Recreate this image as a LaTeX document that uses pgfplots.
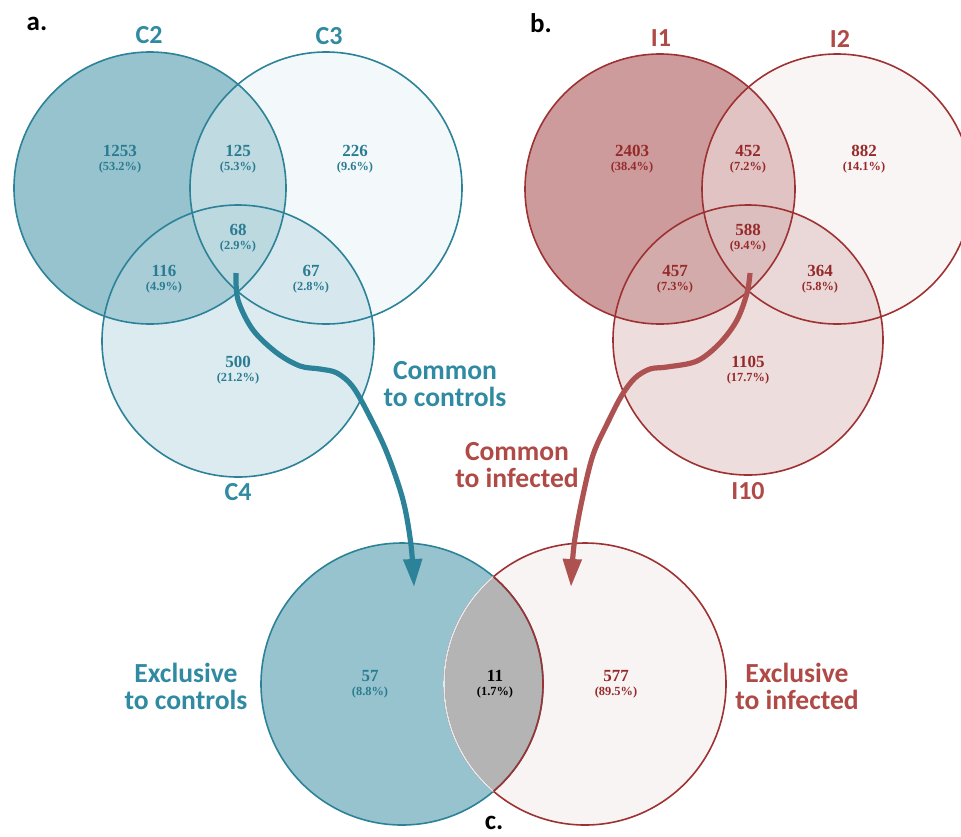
\documentclass[border=0pt]{standalone}
\usepackage{fontspec}
\setmainfont{Liberation Serif}
\newfontfamily\lab{Carlito}
\usepackage{pgfplots}
\usepackage{pgfplotstable}
\pgfplotsset{compat=1.18}
\usetikzlibrary{arrows.meta}

\definecolor{tealc}{RGB}{44,130,152}
\definecolor{tealtxt}{RGB}{48,138,162}
\definecolor{tealnum}{RGB}{42,124,146}
\definecolor{redc}{RGB}{158,50,50}
\definecolor{redtxt}{RGB}{176,74,70}
\definecolor{rednum}{RGB}{150,42,42}
\definecolor{lensgray}{RGB}{180,180,180}
% set fills
\definecolor{fillA}{RGB}{150,195,205}
\definecolor{fillB}{RGB}{232,243,245}
\definecolor{fillC}{RGB}{186,216,224}
\definecolor{fillD}{RGB}{205,155,155}
\definecolor{fillE}{RGB}{245,235,235}
\definecolor{fillF}{RGB}{219,187,187}
\definecolor{fillG}{RGB}{249,244,244}

% region counts and shares: x y (label centre), n (count), p (percent)
\pgfplotstableread{
x y n p
120 159 1253 53.2
238 159 125 5.3
355 159 226 9.6
238 238 68 2.9
164 279 116 4.9
311 279 67 2.8
238 370 500 21.2
370 684 57 8.8
}\controls
\pgfplotstableread{
x y n p
632 159 2403 38.4
748 159 452 7.2
864 159 882 14.1
748 238 588 9.4
675 279 457 7.3
820 279 364 5.8
748 370 1105 17.7
616 684 577 89.5
}\infected
\pgfplotstableread{
x y n p
495 684 11 1.7
}\shared

\pgfplotsset{
  venn labels/.style={
    draw=none, mark=none,
    point meta=explicit symbolic,
    visualization depends on={\thisrow{p}\as\pct},
    nodes near coords={\pgfplotspointmeta\\{\fontsize{6.2}{7}\selectfont(\pgfmathprintnumber[fixed,fixed zerofill,precision=1,assume math mode=true]{\pct}\%)}},
    every node near coord/.append style={align=center, anchor=center, inner sep=0pt,
      text=#1, font=\bfseries\fontsize{8.5}{7}\selectfont},
  },
}

\begin{document}
\begin{tikzpicture}
\begin{axis}[
  scale only axis, width=480.5pt, height=418pt,
  xmin=0, xmax=961, ymin=0, ymax=836, y dir=reverse,
  hide axis, clip=false,
]
% ---- a. controls
\fill[fillA] (axis cs:150,188) circle[radius=68pt];
\fill[fillB, fill opacity=0.5] (axis cs:326,188) circle[radius=68pt];
\fill[fillC, fill opacity=0.5] (axis cs:238,341) circle[radius=68pt];
\draw[tealc, line width=0.8pt] (axis cs:150,188) circle[radius=68pt];
\draw[tealc, line width=0.8pt] (axis cs:326,188) circle[radius=68pt];
\draw[tealc, line width=0.8pt] (axis cs:238,341) circle[radius=68pt];
% ---- b. infected
\fill[fillD] (axis cs:660,189) circle[radius=67.5pt];
\fill[fillE, fill opacity=0.5] (axis cs:837,189) circle[radius=67.5pt];
\fill[fillF, fill opacity=0.5] (axis cs:748,340) circle[radius=67.5pt];
\draw[redc, line width=0.8pt] (axis cs:660,189) circle[radius=67.5pt];
\draw[redc, line width=0.8pt] (axis cs:837,189) circle[radius=67.5pt];
\draw[redc, line width=0.8pt] (axis cs:748,340) circle[radius=67.5pt];
% ---- c. common sets
\fill[fillA] (axis cs:402,684) circle[radius=70.5pt];
\fill[fillG] (axis cs:585,684) circle[radius=70.5pt];
\begin{scope}
  \clip (axis cs:402,684) circle[radius=70.5pt];
  \fill[lensgray] (axis cs:585,684) circle[radius=70.5pt];
\end{scope}
\draw[tealc, line width=0.8pt] (axis cs:402,684) circle[radius=70.5pt];
\draw[redc, line width=0.8pt] (axis cs:585,684) circle[radius=70.5pt];
\begin{scope}
  \clip (axis cs:402,684) circle[radius=70.5pt];
  \draw[white!85!tealc, line width=0.8pt] (axis cs:585,684) circle[radius=70.5pt];
\end{scope}
\begin{scope}
  \clip (axis cs:585,684) circle[radius=70.5pt];
  \draw[redc, line width=0.8pt] (axis cs:402,684) circle[radius=70.5pt];
\end{scope}

% ---- curved arrows
\addplot[tealc, line width=2.6pt, smooth, tension=0.55,
  -{Triangle[length=14pt,width=9pt]}] coordinates {
  (236,273) (238,300) (253,330) (277,353) (300,366) (320,369) (337,373)
  (353,387) (370,417) (387,453) (403,500) (411,545) (414,587)};
\addplot[redc!85!white, line width=2.6pt, smooth, tension=0.55,
  -{Triangle[length=14pt,width=9pt]}] coordinates {
  (750,273) (747,293) (737,320) (720,343) (697,361) (667,367) (650,369)
  (635,378) (622,395) (608,422) (593,455) (582,500) (574,545) (571,587)};

% ---- region counts
\addplot[venn labels=tealnum] table[x=x, y=y, meta=n] {\controls};
\addplot[venn labels=rednum] table[x=x, y=y, meta=n] {\infected};
\addplot[venn labels=black] table[x=x, y=y, meta=n] {\shared};

% ---- set names
\begin{scope}[every node/.style={inner sep=0pt, font=\lab\bfseries\fontsize{13}{13.5}\selectfont}]
\node[text=tealtxt] at (axis cs:149,35) {C2};
\node[text=tealtxt] at (axis cs:329,36) {C3};
\node[text=tealtxt] at (axis cs:238,492) {C4};
\node[text=redtxt] at (axis cs:661,38) {I1};
\node[text=redtxt] at (axis cs:840,39) {I2};
\node[text=redtxt] at (axis cs:748,491) {I10};
\end{scope}
% ---- captions
\begin{scope}[every node/.style={inner sep=0pt, font=\lab\bfseries\fontsize{13.8}{13.5}\selectfont}]
\node[text=tealtxt, align=center] at (axis cs:445,384) {Common\\to controls};
\node[text=redtxt, align=center] at (axis cs:517,465) {Common\\to infected};
\node[text=tealtxt, align=center] at (axis cs:186,686) {Exclusive\\to controls};
\node[text=redtxt, align=center] at (axis cs:797,686) {Exclusive\\to infected};
\end{scope}
\begin{scope}[every node/.style={inner sep=0pt, font=\lab\bfseries\fontsize{13.5}{15}\selectfont}]
\node at (axis cs:37,24) {a.};
\node at (axis cs:541,23) {b.};
\node at (axis cs:494,823) {c.};
\end{scope}
\end{axis}
\pgfresetboundingbox
\path (current axis.south west) rectangle (current axis.north east);
\end{tikzpicture}
\end{document}
